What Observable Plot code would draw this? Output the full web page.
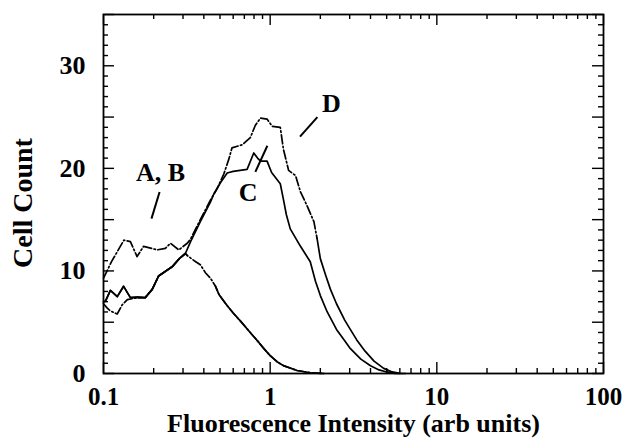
<!DOCTYPE html>
<html>
<head>
<meta charset="utf-8">
<script src="https://cdn.jsdelivr.net/npm/d3@7"></script>
<script src="https://cdn.jsdelivr.net/npm/@observablehq/plot@0.6"></script>
<style>
  body { margin: 0; background: white; }
  #chart svg { display: block; }
</style>
</head>
<body>
<div id="chart"></div>
<script>
// ---- data ----
const seriesA = [
  [0.1, 7.0], [0.1028, 7.05], [0.110, 8.1], [0.121, 7.5], [0.132, 8.5], [0.145, 7.4],
  [0.16, 7.45], [0.178, 7.4], [0.196, 8.2], [0.214, 9.5], [0.258, 10.4], [0.285, 11.2],
  [0.310, 11.7], [0.318, 11.5], [0.35, 11.0], [0.381, 10.6], [0.41, 9.8], [0.438, 9.3],
  [0.47, 8.5], [0.493, 7.7], [0.553, 6.6], [0.60, 5.9], [0.664, 5.1], [0.75, 4.1],
  [0.837, 3.2], [0.92, 2.4], [1.0, 1.74], [1.1, 1.15], [1.2, 0.77], [1.45, 0.29],
  [1.74, 0.07], [2.1, 0]
];
const seriesB = [
  [0.1, 6.8], [0.105, 6.4], [0.110, 6.1], [0.1208, 5.8], [0.1295, 6.7], [0.139, 7.2],
  [0.155, 7.35], [0.178, 7.4], [0.196, 8.2], [0.214, 9.5], [0.258, 10.4], [0.285, 11.2],
  [0.310, 11.7], [0.318, 11.5], [0.35, 11.0], [0.381, 10.6], [0.41, 9.8], [0.438, 9.3],
  [0.47, 8.5], [0.493, 7.7], [0.553, 6.6], [0.60, 5.9], [0.664, 5.1], [0.75, 4.1],
  [0.837, 3.2], [0.92, 2.4], [1.0, 1.74], [1.1, 1.15], [1.2, 0.77], [1.45, 0.29],
  [1.74, 0.07], [2.1, 0]
];
const seriesC = [
  [0.1, 7.0], [0.1028, 7.05], [0.110, 8.1], [0.121, 7.5], [0.132, 8.5], [0.145, 7.4],
  [0.16, 7.45], [0.178, 7.4], [0.196, 8.2], [0.214, 9.5], [0.258, 10.4], [0.285, 11.2],
  [0.310, 11.7], [0.333, 12.85], [0.381, 14.8], [0.438, 16.7], [0.459, 17.5], [0.503, 18.6],
  [0.552, 19.55], [0.60, 19.7], [0.727, 19.9], [0.797, 21.5], [0.84, 21.0], [0.875, 20.7],
  [0.958, 20.7], [1.02, 19.6], [1.15, 18.5], [1.2, 17.0], [1.25, 15.5], [1.32, 14.1],
  [1.52, 12.4], [1.74, 10.9], [1.87, 9.0], [2.0, 7.6], [2.2, 6.0], [2.5, 4.3], [2.8, 3.2],
  [3.0, 2.5], [3.5, 1.4], [4.0, 0.75], [4.5, 0.35], [5.0, 0.15], [5.6, 0.02], [6.0, 0]
];
const seriesD = [
  [0.1, 9.3], [0.1117, 10.9], [0.1325, 13.0], [0.145, 12.85], [0.159, 11.4], [0.174, 12.4],
  [0.21, 12.05], [0.235, 12.2], [0.252, 12.7], [0.283, 12.05], [0.318, 12.7], [0.333, 13.1],
  [0.381, 15.0], [0.438, 16.9], [0.48, 18.0], [0.527, 19.45], [0.565, 20.9], [0.59, 22.0],
  [0.68, 22.3], [0.76, 23.0], [0.815, 24.2], [0.875, 24.9], [0.958, 24.8], [1.03, 24.1],
  [1.15, 24.0], [1.2, 21.9], [1.29, 19.8], [1.42, 19.3], [1.52, 17.7], [1.66, 16.4],
  [1.83, 14.8], [1.91, 13.2], [2.0, 11.2], [2.15, 9.6], [2.3, 8.2], [2.5, 6.8], [2.8, 5.2],
  [3.0, 4.4], [3.3, 3.3], [3.7, 2.2], [4.2, 1.2], [4.8, 0.5], [5.4, 0.15], [6.0, 0.02], [6.5, 0]
];
const labels = [
  {text: "A, B", x: 0.22, y: 19.6},
  {text: "C", x: 0.738, y: 17.6},
  {text: "D", x: 2.33, y: 26.3}
];
const pointers = [
  {x1: 0.217, y1: 17.7, x2: 0.194, y2: 15.1},
  {x1: 0.962, y1: 22.2, x2: 0.815, y2: 19.66},
  {x1: 1.92, y1: 25.0, x2: 1.51, y2: 23.1}
];
const xTickLabels = [0.1, 1, 10, 100];
const yTickLabels = [0, 10, 20, 30];
const xDecades = [0.1, 1, 10];
const yMax = 35;
const xTitle = "Fluorescence Intensity (arb units)";
const yTitle = "Cell Count";

// ---- layout ----
const W = 626, H = 438;
const mL = 103, mR = 23, mT = 14, mB = 65;
const PW = W - mL - mR, PH = H - mT - mB;
const FONT = "Liberation Serif";

const xMinor = xDecades.flatMap(d => d3.range(2, 10).map(k => k * d));
const yAll = d3.range(0, yMax + 1);
const yMajor = yAll.filter(v => v % 5 === 0);
const yMinor = yAll.filter(v => v % 5 !== 0);

const toObj = s => s.map(([x, y]) => ({x, y}));
const A = toObj(seriesA), B = toObj(seriesB), C = toObj(seriesC), D = toObj(seriesD);

const dash = "9,2.5,1.5,2.5";
const lw = 1.7;
const minorLen = 5, majorLen = 11;

const chart = Plot.plot({
  width: W, height: H,
  marginLeft: mL, marginRight: mR, marginTop: mT, marginBottom: mB,
  style: {fontFamily: FONT, fontWeight: "bold", background: "white", color: "black"},
  x: {type: "log", domain: [0.1, 100]},
  y: {domain: [0, yMax]},
  marks: [
    // inward ticks: left / right / bottom / top
    Plot.tickY(yMinor, {y: d => d, insetRight: PW - minorLen, strokeWidth: 1.4}),
    Plot.tickY(yMajor, {y: d => d, insetRight: PW - majorLen, strokeWidth: 1.4}),
    Plot.tickY(yMinor, {y: d => d, insetLeft: PW - minorLen, strokeWidth: 1.4}),
    Plot.tickY(yMajor, {y: d => d, insetLeft: PW - majorLen, strokeWidth: 1.4}),
    Plot.tickX(xMinor, {x: d => d, insetTop: PH - minorLen, strokeWidth: 1.4}),
    Plot.tickX(xTickLabels, {x: d => d, insetTop: PH - majorLen, strokeWidth: 1.4}),
    Plot.tickX(xMinor, {x: d => d, insetBottom: PH - minorLen, strokeWidth: 1.4}),
    Plot.tickX(xTickLabels, {x: d => d, insetBottom: PH - majorLen, strokeWidth: 1.4}),
    Plot.frame({stroke: "black", strokeWidth: 1.8}),
    Plot.axisX(xTickLabels, {tickSize: 0, tickPadding: 14, fontSize: 25, tickFormat: d => String(d), label: null}),
    Plot.axisY(yTickLabels, {tickSize: 0, tickPadding: 18, fontSize: 26, label: null}),
    // curves
    Plot.line(A.filter(d => d.x <= 0.318), {x: "x", y: "y", stroke: "black", strokeWidth: lw}),
    Plot.line(A.filter(d => d.x >= 0.47), {x: "x", y: "y", stroke: "black", strokeWidth: lw}),
    Plot.line(C, {x: "x", y: "y", stroke: "black", strokeWidth: lw}),
    Plot.line(B, {x: "x", y: "y", stroke: "black", strokeWidth: lw, strokeDasharray: dash}),
    Plot.line(D.filter(d => d.x <= 1.91), {x: "x", y: "y", stroke: "black", strokeWidth: lw, strokeDasharray: dash}),
    Plot.line(D.filter(d => d.x >= 1.91), {x: "x", y: "y", stroke: "black", strokeWidth: lw}),
    // annotations
    Plot.link(pointers, {x1: "x1", y1: "y1", x2: "x2", y2: "y2", stroke: "black", strokeWidth: 2}),
    Plot.text(labels, {x: "x", y: "y", text: "text", fontSize: 26, fill: "black"}),
    // axis titles
    Plot.text([xTitle], {frameAnchor: "bottom", lineAnchor: "middle", textAnchor: "middle", dy: 50, fontSize: 26, fill: "black"}),
    Plot.text([yTitle], {frameAnchor: "left", lineAnchor: "middle", textAnchor: "middle", dx: -80, dy: 9, rotate: -90, fontSize: 28, fill: "black"})
  ]
});
document.getElementById("chart").appendChild(chart);
</script>
</body>
</html>
